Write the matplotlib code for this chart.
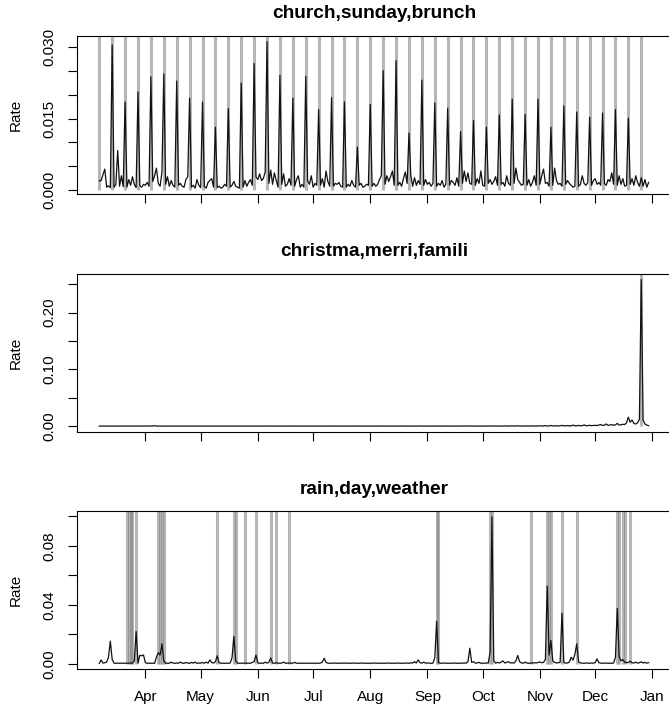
import numpy as np
import pandas as pd
import matplotlib
matplotlib.use("Agg")
import matplotlib.pyplot as plt
import matplotlib.dates as mdates
from matplotlib.ticker import FixedLocator, FixedFormatter

plt.rcParams['font.family'] = ['Liberation Sans', 'DejaVu Sans']

# Daily series, 7 Mar 2010 - 30 Dec 2010
days = pd.date_range('2010-03-07', '2010-12-30', freq='D')

# church,sunday,brunch -- rate in units of 1e-4, one row per week (Sunday first)
church_weeks = [
    [19, 20, 32, 44, 6, 9, 5],
    [305, 6, 12, 83, 8, 30, 7],
    [185, 6, 22, 10, 28, 12, 5],
    [206, 9, 6, 12, 10, 16, 8],
    [238, 18, 30, 46, 14, 8, 38],
    [244, 12, 28, 8, 20, 10, 6],
    [229, 10, 14, 8, 6, 22, 28],
    [193, 6, 10, 4, 22, 10, 5],
    [185, 8, 4, 16, 20, 24, 6],
    [132, 5, 8, 4, 6, 12, 8],
    [171, 6, 10, 18, 8, 6, 4],
    [225, 6, 20, 8, 16, 22, 10],
    [266, 28, 22, 34, 20, 24, 38],
    [312, 14, 42, 12, 36, 20, 6],
    [241, 12, 34, 8, 12, 24, 10],
    [193, 8, 22, 30, 6, 12, 6],
    [239, 20, 12, 30, 6, 14, 10],
    [169, 10, 24, 6, 40, 18, 8],
    [194, 8, 14, 12, 16, 8, 6],
    [185, 6, 12, 8, 20, 10, 6],
    [90, 10, 14, 6, 8, 12, 10],
    [180, 8, 14, 8, 12, 22, 30],
    [251, 12, 30, 18, 28, 40, 10],
    [272, 10, 16, 8, 24, 38, 14],
    [120, 30, 8, 26, 10, 20, 12],
    [231, 10, 22, 12, 16, 8, 14],
    [183, 8, 14, 10, 20, 6, 12],
    [172, 10, 20, 16, 10, 26, 8],
    [123, 14, 40, 18, 36, 14, 12],
    [146, 10, 24, 14, 40, 10, 8],
    [132, 14, 22, 12, 18, 28, 10],
    [158, 12, 16, 8, 30, 14, 10],
    [191, 14, 46, 22, 16, 10, 12],
    [159, 10, 22, 8, 16, 30, 10],
    [191, 12, 30, 44, 14, 16, 8],
    [132, 10, 46, 20, 12, 14, 8],
    [177, 12, 20, 14, 10, 6, 8],
    [164, 8, 12, 30, 14, 10, 16],
    [153, 10, 20, 24, 12, 16, 10],
    [162, 14, 10, 22, 18, 36, 12],
    [169, 10, 30, 12, 24, 8, 10],
    [151, 12, 24, 10, 30, 16, 8],
    [26, 8, 22, 6, 16],
]
church_marks = pd.date_range('2010-03-07', '2010-12-26', freq='7D')

# christma,merri,famili -- rate in units of 1e-4, by month
xmas_mar = [3, 3, 2, 3, 3, 2, 3, 3, 4, 3, 2, 3, 3, 3, 2, 3, 3, 3, 4, 3, 3, 2, 3, 3, 3]
xmas_apr = [3, 3, 3, 3, 4, 10, 4, 3, 3, 2, 3, 3, 3, 2, 3, 3, 4, 3, 3, 3, 2, 3, 3, 3, 3, 4, 3, 3, 2, 3]
xmas_may = [3, 3, 2, 3, 3, 3, 4, 3, 3, 3, 2, 3, 3, 3, 3, 4, 3, 3, 2, 3, 3, 3, 3, 3, 4, 3, 3, 3, 2, 3, 3]
xmas_jun = [3, 4, 3, 3, 3, 3, 5, 3, 3, 3, 2, 3, 3, 4, 3, 3, 3, 3, 3, 5, 3, 3, 3, 2, 3, 3, 3, 4, 3, 3]
xmas_jul = [3, 3, 3, 4, 3, 3, 3, 3, 3, 5, 3, 3, 3, 2, 3, 3, 4, 3, 3, 3, 3, 3, 5, 3, 3, 3, 3, 3, 4, 3, 3]
xmas_aug = [3, 3, 4, 3, 3, 3, 3, 5, 3, 3, 3, 3, 4, 3, 3, 3, 3, 5, 3, 3, 3, 4, 3, 3, 3, 3, 3, 6, 3, 3, 3]
xmas_sep = [4, 3, 3, 3, 5, 3, 3, 3, 4, 3, 3, 6, 3, 3, 3, 4, 3, 3, 3, 5, 3, 4, 3, 3, 6, 3, 3, 4, 3, 3]
xmas_oct = [4, 3, 5, 3, 3, 6, 3, 4, 3, 5, 3, 3, 7, 4, 3, 4, 6, 3, 4, 8, 4, 3, 5, 4, 6, 3, 4, 7, 4, 5, 4]
xmas_nov = [9, 5, 4, 12, 5, 6, 14, 5, 6, 10, 5, 8, 16, 6, 7, 12, 6, 8, 20, 7, 8, 14, 9, 10, 24, 8, 12, 18, 10, 14]
xmas_dec = [16, 12, 20, 30, 14, 18, 40, 16, 22, 28, 18, 24, 50, 20, 26, 34, 30, 60, 160, 70,
            110, 50, 40, 60, 120, 2580, 110, 40, 20, 10]
xmas_marks = pd.to_datetime(['2010-12-26'])

# rain,day,weather -- rate in units of 1e-4, by month
rain_mar = [3, 27, 5, 8, 12, 45, 154, 30, 5, 4, 5, 4, 5, 4, 5, 4, 5, 6, 5, 20, 220, 5, 58, 55, 60]
rain_apr = [8, 4, 5, 4, 5, 4, 45, 75, 60, 136, 20, 4, 5, 4, 12, 5, 4, 6, 4, 12, 5, 4, 10, 5, 4, 10, 5, 12, 4, 6]
rain_may = [5, 10, 4, 12, 5, 27, 10, 5, 15, 55, 8, 4, 5, 4, 5, 4, 6, 40, 186, 20, 5, 4, 5, 4, 6, 4, 5, 4, 10, 15, 60]
rain_jun = [8, 4, 5, 4, 12, 5, 12, 40, 6, 4, 8, 5, 4, 6, 12, 4, 5, 6, 4, 5, 10, 4, 5, 4, 5, 4, 5, 4, 5, 4]
rain_jul = [5, 4, 5, 4, 6, 12, 38, 10, 5, 4, 5, 4, 6, 4, 5, 4, 5, 6, 4, 5, 4, 5, 6, 4, 5, 4, 6, 5, 4, 5, 4]
rain_aug = [5, 4, 5, 6, 4, 5, 4, 5, 4, 6, 5, 4, 5, 4, 5, 6, 4, 5, 4, 6, 5, 4, 8, 5, 15, 6, 27, 8, 5, 12, 5]
rain_sep = [6, 5, 4, 5, 40, 289, 10, 5, 4, 6, 5, 4, 5, 4, 6, 5, 4, 5, 4, 5, 6, 5, 15, 106, 10, 15, 5, 6, 10, 5]
rain_oct = [4, 5, 6, 5, 80, 996, 20, 5, 10, 6, 12, 20, 6, 10, 15, 6, 8, 5, 20, 57, 15, 6, 5, 12, 5, 4, 6, 5, 8, 6, 10]
rain_nov = [12, 8, 10, 30, 527, 60, 159, 20, 10, 6, 8, 10, 345, 10, 5, 6, 12, 45, 25, 65, 136, 15, 6, 5, 4, 6, 5, 4, 6, 5]
rain_dec = [8, 34, 8, 5, 4, 6, 5, 4, 5, 4, 6, 45, 375, 50, 20, 30, 12, 8, 10, 18, 8, 6, 12, 5, 8, 14, 6, 10, 5, 8]
rain_marks = pd.to_datetime([
    '2010-03-22', '2010-03-23', '2010-03-24', '2010-03-25', '2010-03-27',
    '2010-04-08', '2010-04-09', '2010-04-10', '2010-04-11',
    '2010-05-10', '2010-05-19', '2010-05-20', '2010-05-25', '2010-05-31',
    '2010-06-08', '2010-06-11', '2010-06-18',
    '2010-09-06', '2010-09-07', '2010-10-05', '2010-10-06', '2010-10-27',
    '2010-11-05', '2010-11-06', '2010-11-07', '2010-11-13', '2010-11-21',
    '2010-12-13', '2010-12-14', '2010-12-16', '2010-12-17', '2010-12-20',
])

church = np.concatenate([np.array(w, float) for w in church_weeks]) * 1e-4
xmas = np.array(xmas_mar + xmas_apr + xmas_may + xmas_jun + xmas_jul
                + xmas_aug + xmas_sep + xmas_oct + xmas_nov + xmas_dec, float) * 1e-4
rain = np.array(rain_mar + rain_apr + rain_may + rain_jun + rain_jul
                + rain_aug + rain_sep + rain_oct + rain_nov + rain_dec, float) * 1e-4

panels = [
    ('church,sunday,brunch', church, church_marks,
     [0, 0.005, 0.010, 0.015, 0.020, 0.025, 0.030], ['0.000', '', '', '0.015', '', '', '0.030']),
    ('christma,merri,famili', xmas, xmas_marks,
     [0, 0.05, 0.10, 0.15, 0.20, 0.25], ['0.00', '', '0.10', '', '0.20', '']),
    ('rain,day,weather', rain, rain_marks,
     [0, 0.02, 0.04, 0.06, 0.08, 0.10], ['0.00', '', '0.04', '', '0.08', '']),
]

month_ticks = pd.date_range('2010-04-01', '2011-01-01', freq='MS')

W, H = 669, 709
fig = plt.figure(figsize=(W / 100, H / 100), dpi=100)
tops = [35.7, 273.7, 511.0]
ax_h = 158.3
ax_left, ax_w = 77.3, 593.3

x0 = mdates.date2num(days[0])
x1 = mdates.date2num(days[-1])
xpad = 0.04 * (x1 - x0)

for i, (title, vals, marks, yt, ylab) in enumerate(panels):
    top = tops[i]
    ax = fig.add_axes([ax_left / W, (H - top - ax_h) / H, ax_w / W, ax_h / H])
    lo, hi = vals.min(), vals.max()
    ypad = 0.04 * (hi - lo)
    ax.vlines(marks, 0, 10, color='#7a7a7a', alpha=0.55, linewidth=2.2,
              capstyle='butt', zorder=1)
    ax.plot(days, vals, color='#111111', linewidth=0.9, zorder=2)
    ax.set_xlim(x0 - xpad, x1 + xpad)
    ax.set_ylim(lo - ypad, hi + ypad)

    ax.yaxis.set_major_locator(FixedLocator(yt))
    ax.yaxis.set_major_formatter(FixedFormatter(ylab))
    for t in ax.get_yticklabels():
        t.set_rotation(90)
        t.set_va('center')
    ax.set_xticks(month_ticks)
    if i == 2:
        ax.set_xticklabels([d.strftime('%b') for d in month_ticks])
    else:
        ax.set_xticklabels([])

    ax.tick_params(direction='out', length=6.7, width=0.8, color='black',
                   labelsize=11, pad=8.5)
    for s in ax.spines.values():
        s.set_linewidth(0.8)
        s.set_color('black')
    ax.set_ylabel('Rate', fontsize=11, labelpad=14)
    ax.set_title(title, fontsize=13.8, fontweight='bold', pad=12.5)

fig.savefig('out.png', dpi=100)
